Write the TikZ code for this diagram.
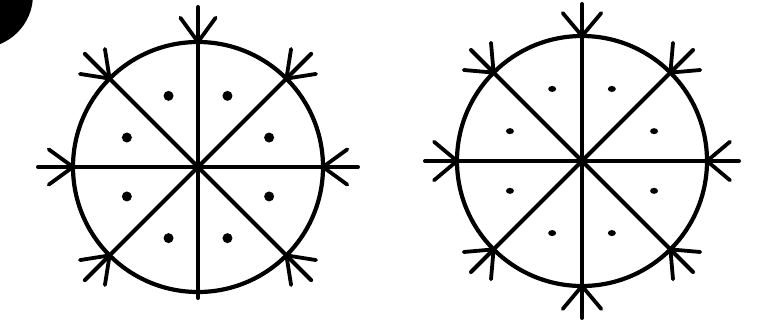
\documentclass[tikz,border=0pt]{standalone}
\begin{document}
\begin{tikzpicture}[x=1pt,y=-1pt,line cap=round,line join=round,
  rim/.style={line width=4.2pt},
  spoke/.style={line width=4pt},
  barb/.style={line width=3.8pt},
  bigdot/.style={fill=black},
  smalldot/.style={fill=black}]
\useasboundingbox (0,0) rectangle (773,326);
\fill (-20,-5) circle (53);
% left wheel
\begin{scope}[shift={(198,167)}]
  \draw[rim] (0,0) circle (125);
  \foreach \a in {0,45,...,315} {
    \draw[spoke] (0,0) -- (\a:125);
  }
  \foreach \a in {0,45,90,135,180,225,315} {
    \begin{scope}[rotate=\a]
      \draw[spoke] (125,0) -- (160,0);
      \draw[barb] ([shift={(36:30)}]125,0) -- (125,0) -- ([shift={(-36:30)}]125,0);
    \end{scope}
  }
  \draw[spoke] (0,125) -- (0,131);
  \foreach \a in {22.5,67.5,...,337.5} {
    \fill[bigdot] (\a:77) circle (5);
  }
\end{scope}
% right wheel
\begin{scope}[shift={(582,161)}]
  \draw[rim] (0,0) circle (125);
  \foreach \a in {0,45,...,315} {
    \draw[spoke] (0,0) -- (\a:125);
    \begin{scope}[rotate=\a]
      \draw[spoke] (125,0) -- (157,0);
      \draw[barb] ([shift={(40:30)}]125,0) -- (125,0) -- ([shift={(-40:30)}]125,0);
    \end{scope}
  }
  \foreach \a in {22.5,67.5,...,337.5} {
    \fill[smalldot] (\a:78) ellipse (4 and 3);
  }
\end{scope}
\end{tikzpicture}
\end{document}
